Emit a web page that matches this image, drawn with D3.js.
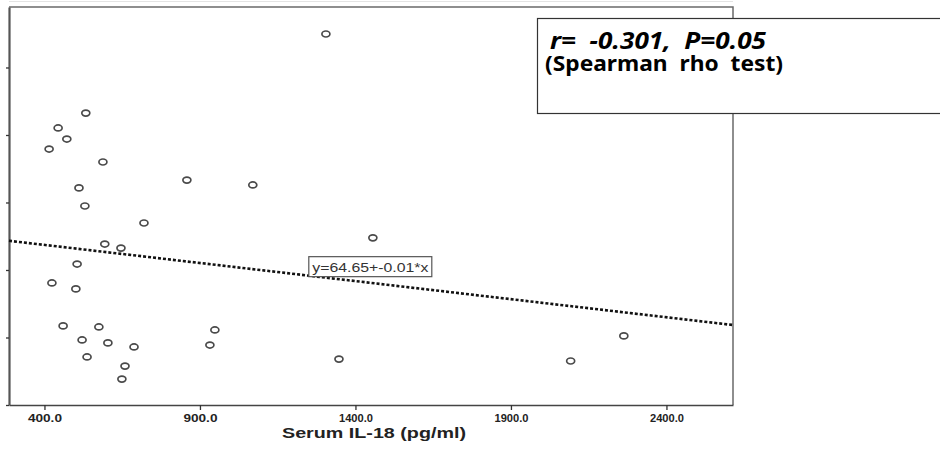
<!DOCTYPE html>
<html>
<head>
<meta charset="utf-8">
<script src="https://cdn.jsdelivr.net/npm/d3@7"></script>
<style>
  html, body { margin: 0; padding: 0; background: #fff; }
  svg { display: block; }
</style>
</head>
<body>
<svg id="chart" width="940" height="450"></svg>
<script>
// Serum IL-18 (pg/ml) for each subject
const il18 = [
  533, 444, 472, 415, 588, 858, 1070, 511, 530, 1305,
  720, 594, 646, 505, 424, 501, 460, 575, 948, 521,
  604, 932, 688, 537, 659, 649, 1456, 1347, 2092, 2263
];
// Paired outcome values (y axis)
const outcome = [
  108.1, 102.6, 98.5, 94.8, 90.0, 83.3, 81.5, 80.4, 73.7, 137.4,
  67.4, 59.6, 58.1, 52.2, 45.2, 43.0, 29.3, 28.9, 27.8, 24.1,
  23.0, 22.2, 21.5, 17.8, 14.4, 9.6, 61.9, 17.0, 16.3, 25.6
];
// Fitted regression line y = a + b*x
const fitIntercept = 64.65;
const fitSlope = -0.0134;
// Axis ticks
const xTicks = [400, 900, 1400, 1900, 2400];
const yTicks = [0, 25, 50, 75, 100, 125];
// Correlation summary
const statLines = ["r=  -0.301,  P=0.05", "(Spearman  rho  test)"];
const xTitle = "Serum IL-18 (pg/ml)";

const svg = d3.select("#chart");
const plot = { left: 9, right: 733, top: 7, bottom: 405 };

const x = d3.scaleLinear().domain([286, 2614]).range([plot.left, plot.right]);
const y = d3.scaleLinear().domain([0, 147.4]).range([plot.bottom, plot.top]);

const sans = "'Liberation Sans', Arial, sans-serif";

// faint outer edge line
svg.append("line")
  .attr("x1", plot.left).attr("x2", plot.right)
  .attr("y1", 1.5).attr("y2", 1.5)
  .attr("stroke", "#e4e4e4").attr("stroke-width", 1);

// plot frame (top and right)
svg.append("path")
  .attr("d", `M${plot.left},${plot.top}H${plot.right}V${plot.bottom}`)
  .attr("fill", "none")
  .attr("stroke", "#6a6a6a")
  .attr("stroke-width", 1.5);

// y axis (ticks only)
const yAxis = svg.append("g")
  .attr("transform", `translate(${plot.left},0)`)
  .call(d3.axisLeft(y).tickValues(yTicks).tickFormat("").tickSize(3).tickSizeOuter(0));
yAxis.select(".domain").attr("stroke", "#555").attr("stroke-width", 2.2);
yAxis.selectAll(".tick line").attr("stroke", "#333").attr("stroke-width", 1.3);

// x axis
const xAxis = svg.append("g")
  .attr("transform", `translate(0,${plot.bottom})`)
  .call(d3.axisBottom(x).tickValues(xTicks).tickFormat(d => d.toFixed(1)).tickSize(5).tickSizeOuter(0));
xAxis.select(".domain").attr("stroke", "#444").attr("stroke-width", 1.6);
xAxis.selectAll(".tick line").attr("stroke", "#333").attr("stroke-width", 1.3);
xAxis.selectAll(".tick text")
  .attr("y", 9)
  .attr("dy", "0.71em")
  .attr("fill", "#222")
  .style("font-family", sans)
  .style("font-size", "11px")
  .style("font-weight", "bold")
  .attr("textLength", 34)
  .attr("lengthAdjust", "spacingAndGlyphs");

// x axis title
svg.append("text")
  .attr("x", 374).attr("y", 438)
  .attr("text-anchor", "middle")
  .attr("fill", "#222")
  .style("font-family", sans)
  .style("font-size", "14.5px")
  .style("font-weight", "bold")
  .attr("textLength", 184)
  .attr("lengthAdjust", "spacingAndGlyphs")
  .text(xTitle);

// regression line
const fit = v => fitIntercept + fitSlope * v;
const dom = x.domain();
svg.append("line")
  .attr("x1", x(dom[0])).attr("y1", y(fit(dom[0])))
  .attr("x2", x(dom[1])).attr("y2", y(fit(dom[1])))
  .attr("stroke", "#111")
  .attr("stroke-width", 2.6)
  .attr("stroke-dasharray", "3,2");

// data points
svg.append("g").selectAll("ellipse")
  .data(d3.range(il18.length))
  .join("ellipse")
  .attr("cx", i => x(il18[i]))
  .attr("cy", i => y(outcome[i]))
  .attr("rx", 4)
  .attr("ry", 3)
  .attr("fill", "none")
  .attr("stroke", "#4a4a4a")
  .attr("stroke-width", 1.7);

// equation label anchored on the fitted line
const eqX = 1250;
const ex = x(eqX), ey = y(fit(eqX));
const eqText = `y=${fitIntercept.toFixed(2)}+${fitSlope.toFixed(2)}*x`;
svg.append("rect")
  .attr("x", ex).attr("y", ey - 19)
  .attr("width", 123).attr("height", 20)
  .attr("fill", "#fff")
  .attr("stroke", "#555")
  .attr("stroke-width", 1.2);
svg.append("text")
  .attr("x", ex + 3.5).attr("y", ey - 4)
  .attr("fill", "#333")
  .style("font-family", sans)
  .style("font-size", "12px")
  .attr("textLength", 116)
  .attr("lengthAdjust", "spacingAndGlyphs")
  .text(eqText);

// correlation summary box
svg.append("rect")
  .attr("x", 537.5).attr("y", 18.5)
  .attr("width", 410).attr("height", 95)
  .attr("fill", "#fff")
  .attr("stroke", "#333")
  .attr("stroke-width", 1.2);
const legendFont = "'Noto Sans', 'Open Sans', sans-serif";
const stat = svg.append("text")
  .attr("fill", "#000")
  .style("font-family", legendFont)
  .style("font-weight", "bold")
  .style("white-space", "pre");
stat.append("tspan")
  .attr("x", 550).attr("y", 49)
  .style("font-size", "24px")
  .style("font-style", "italic")
  .attr("textLength", 216)
  .attr("lengthAdjust", "spacingAndGlyphs")
  .text(statLines[0]);
stat.append("tspan")
  .attr("x", 545).attr("y", 71)
  .style("font-size", "22px")
  .attr("textLength", 238)
  .attr("lengthAdjust", "spacingAndGlyphs")
  .text(statLines[1]);
</script>
</body>
</html>
